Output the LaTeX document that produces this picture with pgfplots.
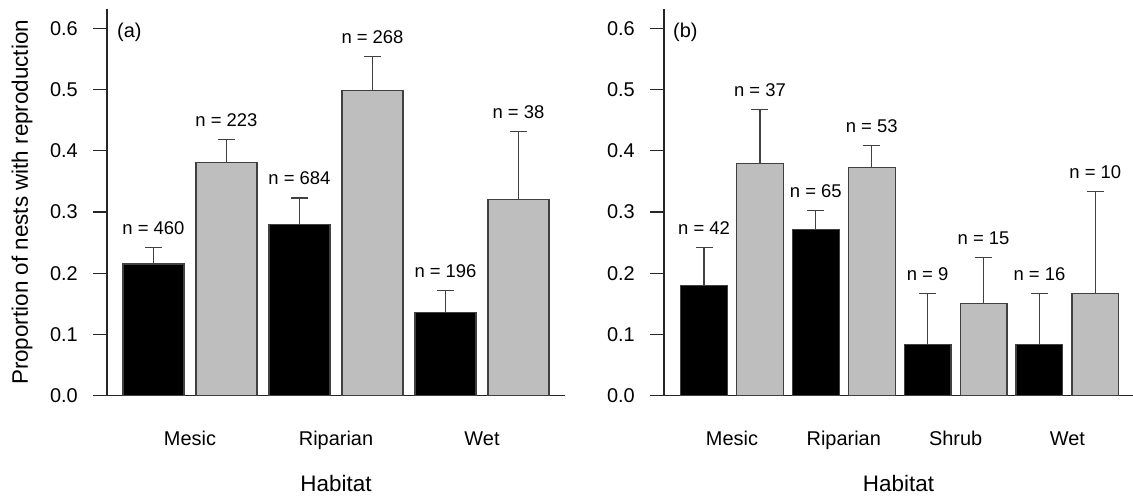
\documentclass[border=0pt]{standalone}
\usepackage{fontspec}
\setmainfont{Liberation Sans}
\usepackage{pgfplots}
\usepackage{pgfplotstable}
\pgfplotsset{compat=1.18}
\definecolor{bargray}{HTML}{BEBEBE}
\definecolor{edge}{HTML}{404040}

\newcommand{\ticksize}{\fontsize{20}{24}\selectfont}
\newcommand{\nsize}{\fontsize{18.5}{22}\selectfont}
\newcommand{\labsize}{\fontsize{22.5}{27}\selectfont}

\pgfplotsset{
  habitat/.style={
    scale only axis,
    height=386.7bp,
    ymin=0, ymax=0.6315,
    clip=false,
    axis x line*=bottom,
    axis y line*=left,
    axis line style={line width=1.2bp, color=black!85},
    tick align=outside,
    major tick length=14bp,
    ytick={0,0.1,0.2,0.3,0.4,0.5,0.6},
    ytick style={line width=1.2bp, color=black!85},
    xtick style={draw=none},
    xtick={0,1,2,3},
    /pgf/number format/.cd, fixed, fixed zerofill, precision=1, assume math mode=true,
    /pgfplots/.cd,
    yticklabel style={anchor=east, inner sep=0pt, xshift=-15bp, font=\ticksize},
    xticklabel style={anchor=base, inner sep=0pt, yshift=-36bp, font=\ticksize},
    xlabel={Habitat},
    xlabel style={at={(axis description cs:0.5,-0.2483)}, anchor=base, inner sep=0pt, font=\labsize},
  },
  bars/.style={ybar, bar width=0.418, bar shift=0pt, draw=edge, line width=1.2bp,
    error bars/.cd, y dir=plus, y explicit,
    error bar style={line width=1.2bp, draw=edge},
    error mark=-,
    error mark options={rotate=90, mark size=8.5bp, line width=1.2bp, draw=edge},
    /pgfplots/.cd},
  nlabels/.style={draw=none, mark=none, point meta=explicit symbolic,
    nodes near coords={n = \pgfplotspointmeta},
    nodes near coords style={anchor=base, inner sep=0pt, yshift=13bp, font=\nsize, text=black}},
}

% panel (a): bar positions, proportion, upper error, n
\pgfplotstableread{
x     p     e     n
-0.25 0.215 0.027 460
0.75  0.279 0.044 684
1.75  0.136 0.036 196
}\blackA
\pgfplotstableread{
x     p     e     n
0.25  0.381 0.037 223
1.25  0.498 0.056 268
2.25  0.321 0.111 38
}\grayA

% panel (b)
\pgfplotstableread{
x     p     e     n
-0.25 0.180 0.062 42
0.75  0.271 0.031 65
1.75  0.084 0.083 9
2.75  0.084 0.083 16
}\blackB
\pgfplotstableread{
x     p     e     n
0.25  0.379 0.089 37
1.25  0.372 0.037 53
2.25  0.151 0.075 15
3.25  0.167 0.166 10
}\grayB

\begin{document}
\begin{tikzpicture}
\useasboundingbox (0,0) rectangle (1133bp,502bp);

\begin{axis}[habitat,
  at={(107bp,106.3bp)}, anchor=south west,
  width=458bp,
  xmin=-0.5685, xmax=2.5685,
  xticklabels={Mesic,Riparian,Wet},
  ylabel={Proportion of nests with reproduction},
  ylabel style={at={(axis description cs:-0.1725,0.5)}, anchor=base, inner sep=0pt, font=\labsize},
]
\addplot[bars, fill=black] table[x=x, y=p, y error plus=e] {\blackA};
\addplot[bars, fill=bargray] table[x=x, y=p, y error plus=e] {\grayA};
\addplot[nlabels] table[x=x, y expr=\thisrow{p}+\thisrow{e}, meta=n] {\blackA};
\addplot[nlabels] table[x=x, y expr=\thisrow{p}+\thisrow{e}, meta=n] {\grayA};
\node[anchor=west, inner sep=0pt, font=\ticksize] at ([xshift=10bp, yshift=-23.7bp]rel axis cs:0,1) {(a)};
\end{axis}

\begin{axis}[habitat,
  at={(664bp,106.3bp)}, anchor=south west,
  width=469bp,
  xmin=-0.608, xmax=3.587,
  xticklabels={Mesic,Riparian,Shrub,Wet},
]
\addplot[bars, fill=black] table[x=x, y=p, y error plus=e] {\blackB};
\addplot[bars, fill=bargray] table[x=x, y=p, y error plus=e] {\grayB};
\addplot[nlabels] table[x=x, y expr=\thisrow{p}+\thisrow{e}, meta=n] {\blackB};
\addplot[nlabels] table[x=x, y expr=\thisrow{p}+\thisrow{e}, meta=n] {\grayB};
\node[anchor=west, inner sep=0pt, font=\ticksize] at ([xshift=9bp, yshift=-23.7bp]rel axis cs:0,1) {(b)};
\end{axis}
\end{tikzpicture}
\end{document}
